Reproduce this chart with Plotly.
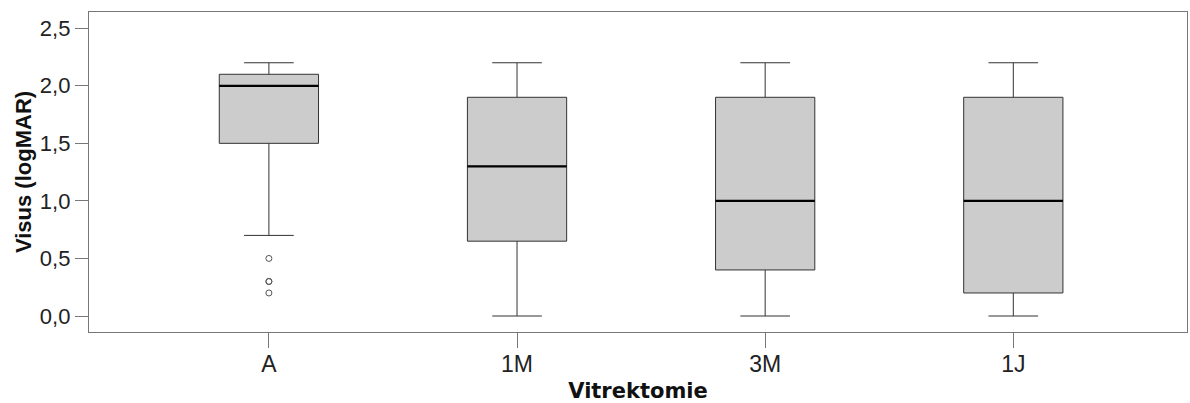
import plotly.graph_objects as go

categories = ["A", "1M", "3M", "1J"]
q1 = [1.5, 0.65, 0.4, 0.2]
median = [2.0, 1.3, 1.0, 1.0]
q3 = [2.1, 1.9, 1.9, 1.9]
lower = [0.7, 0.0, 0.0, 0.0]
upper = [2.2, 2.2, 2.2, 2.2]
outlier_cat = [0, 0, 0, 0]
outlier_val = [0.5, 0.3, 0.3, 0.2]

BOX_W = 0.4
pos = list(range(len(categories)))

fig = go.Figure()
fig.add_trace(go.Box(
    x=pos, q1=q1, median=median, q3=q3, lowerfence=lower, upperfence=upper,
    width=BOX_W, whiskerwidth=0.5, fillcolor="#cccccc",
    line=dict(color="#333333", width=1), boxpoints=False, showlegend=False,
    hoverinfo="skip"))

# thicker black median lines
mx, my = [], []
for i, m in zip(pos, median):
    mx += [i - BOX_W / 2, i + BOX_W / 2, None]
    my += [m, m, None]
fig.add_trace(go.Scatter(x=mx, y=my, mode="lines",
                         line=dict(color="#000000", width=2.2),
                         showlegend=False, hoverinfo="skip"))

fig.add_trace(go.Scatter(x=outlier_cat, y=outlier_val, mode="markers",
                         marker=dict(symbol="circle-open", size=6,
                                     color="#555555", line=dict(width=1)),
                         showlegend=False, hoverinfo="skip"))

axis_col = "#777777"
fig.update_layout(
    width=1190, height=403,
    margin=dict(l=89, r=3, t=12, b=71),
    plot_bgcolor="white", paper_bgcolor="white",
    separators=", ",
    font=dict(family="Liberation Sans, Arial, sans-serif", color="#222222", size=22),
    xaxis=dict(
        range=[-0.725, 3.70], tickmode="array", tickvals=pos, ticktext=categories,
        showgrid=False, zeroline=False, showline=True, linecolor=axis_col,
        linewidth=1.3, mirror=True, ticks="outside", ticklen=15, tickcolor=axis_col,
        tickfont=dict(size=23), automargin=False, ticklabelstandoff=-4,
        title=dict(text="<b>Vitrektomie</b>",
                   font=dict(family="DejaVu Sans", size=21, color="#111111"),
                   standoff=7)),
    yaxis=dict(
        range=[-0.139, 2.641], tickmode="array",
        tickvals=[0, 0.5, 1.0, 1.5, 2.0, 2.5], tickformat=".1f",
        showgrid=False, zeroline=False, showline=True, linecolor=axis_col,
        linewidth=1.3, mirror=True, ticks="outside", ticklen=13, tickcolor=axis_col,
        tickfont=dict(size=22), automargin=False,
        title=dict(text="<b>Visus (logMAR)</b>",
                   font=dict(family="Liberation Sans", size=22, color="#111111"),
                   standoff=2)),
)

fig.write_html("out.html", post_script="document.body.style.margin='0';",
               config={"displayModeBar": False})
